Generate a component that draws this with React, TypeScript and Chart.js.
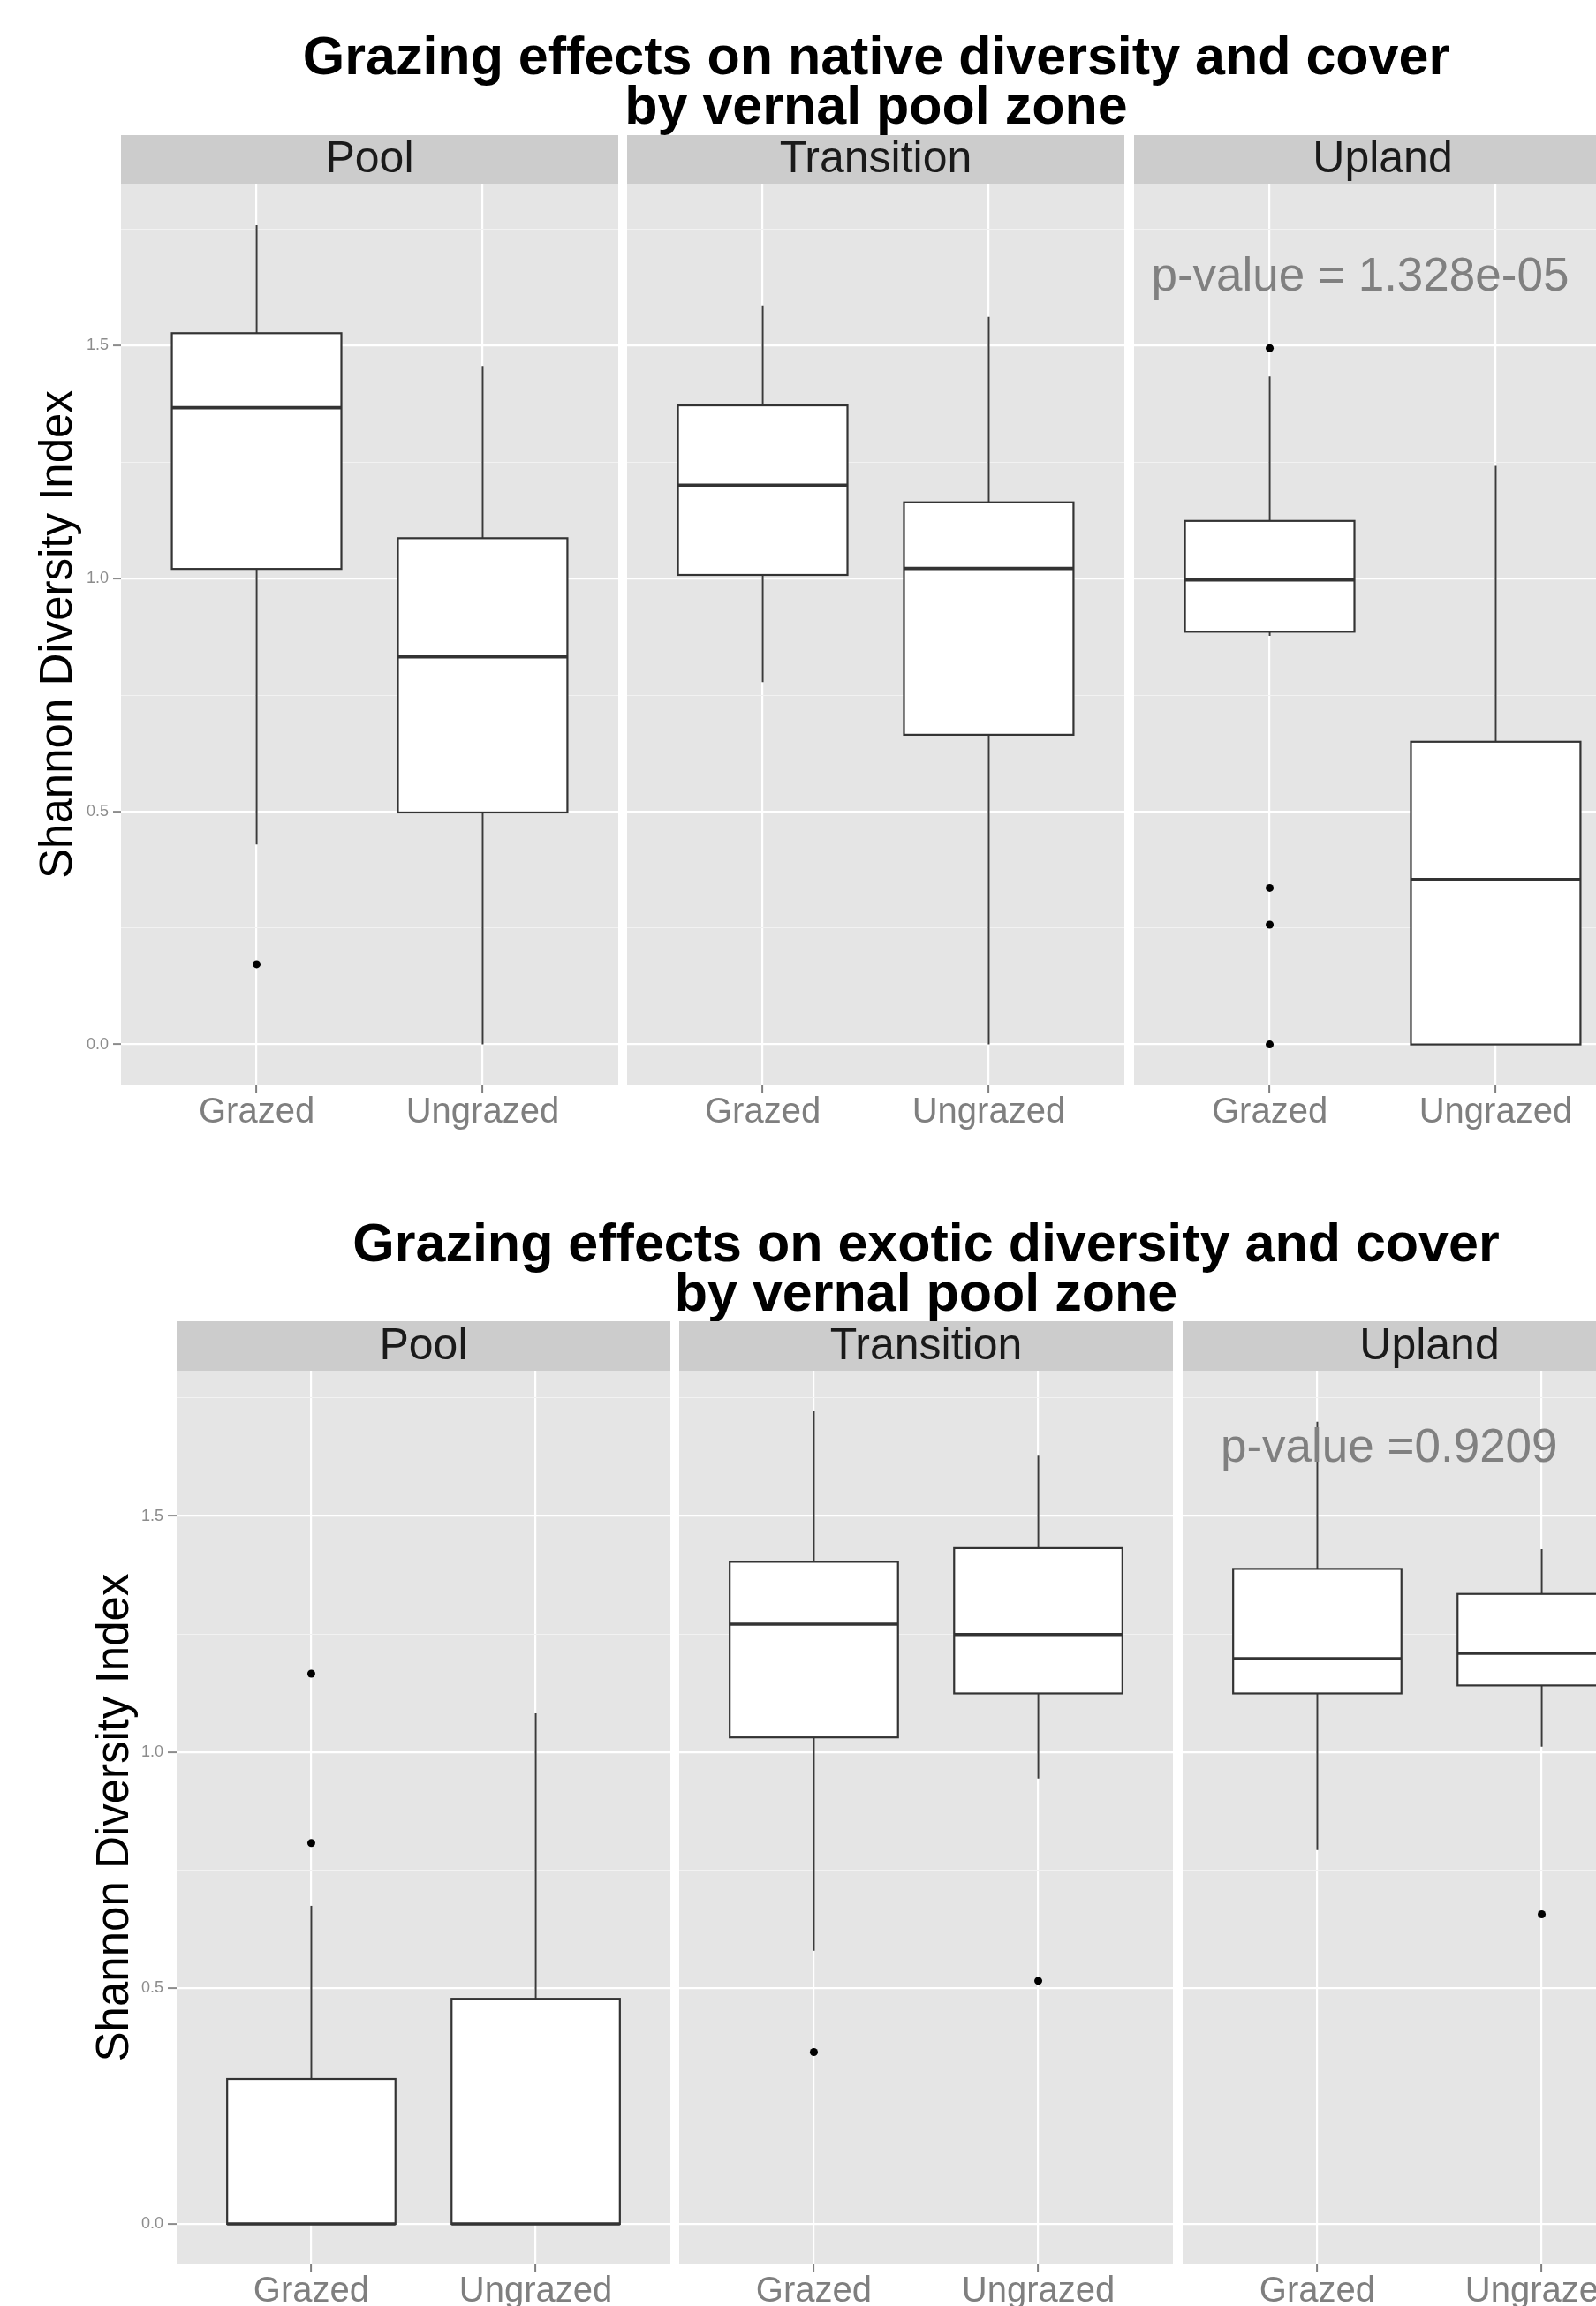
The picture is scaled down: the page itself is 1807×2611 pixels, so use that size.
import React, { useEffect, useRef } from 'react';
import { Chart, registerables } from 'chart.js';

Chart.register(...registerables);

// ---------- data ----------
const zones = ['Pool', 'Transition', 'Upland'];
const groups = ['Grazed', 'Ungrazed'];
const yTickValues = [0, 0.25, 0.5, 0.75, 1, 1.25, 1.5, 1.75];
const yAxisTitle = 'Shannon Diversity Index';

// Native diversity (top chart): per zone, [Grazed, Ungrazed]
const nativeTitle = 'Grazing effects on native diversity and cover\nby vernal pool zone';
const nativeLow = [[0.429, 0.0], [0.778, 0.0], [0.877, 0.0]];
const nativeQ1 = [[1.021, 0.498], [1.008, 0.665], [0.886, 0.0]];
const nativeMedian = [[1.367, 0.832], [1.201, 1.022], [0.997, 0.354]];
const nativeQ3 = [[1.527, 1.087], [1.372, 1.164], [1.124, 0.65]];
const nativeHigh = [[1.759, 1.457], [1.587, 1.562], [1.434, 1.242]];
const nativeOutliers = [[[0.172], []], [[], []], [[1.495, 0.336, 0.257, 0.0], []]];
const nativeRange = [-0.088, 1.848];
const nativePText = 'p-value = 1.328e-05';
const nativePAt = [1.4, 1.646];

// Exotic diversity (bottom chart)
const exoticTitle = 'Grazing effects on exotic diversity and cover\nby vernal pool zone';
const exoticLow = [[0, 0], [0.579, 0.944], [0.792, 1.011]];
const exoticQ1 = [[0, 0], [1.031, 1.124], [1.124, 1.141]];
const exoticMedian = [[0, 0], [1.271, 1.249], [1.198, 1.209]];
const exoticQ3 = [[0.307, 0.477], [1.403, 1.432], [1.388, 1.335]];
const exoticHigh = [[0.674, 1.082], [1.722, 1.628], [1.7, 1.43]];
const exoticOutliers = [[[0.807, 1.166], []], [[0.364], [0.515]], [[], [0.656]]];
const exoticRange = [-0.086, 1.808];
const exoticPText = 'p-value =0.9209';
const exoticPAt = [1.32, 1.642];

const FONT = '"Liberation Sans", Arial, Helvetica, sans-serif';

type PanelProps = {
  left: number;
  top: number;
  width: number;
  stripH: number;
  plotH: number;
  axisH: number;
  yAxisWidth: number;
  titlePad: number;
  tickLen: number;
  zoneIndex: number;
  low: number[][];
  q1: number[][];
  med: number[][];
  q3: number[][];
  high: number[][];
  outliers: number[][][];
  range: number[];
  pText?: string;
  pAt?: number[];
};

function Panel(p: PanelProps) {
  const ref = useRef<HTMLCanvasElement>(null);
  const height = p.stripH + p.plotH + p.axisH;
  useEffect(() => {
    const z = p.zoneIndex;
    const showY = p.yAxisWidth > 0;
    const isMajor = (v: number) => Math.abs(v * 2 - Math.round(v * 2)) < 1e-6;
    const points: { x: number; y: number }[] = [];
    groups.forEach((_, g) => p.outliers[z][g].forEach((v) => points.push({ x: g + 1, y: v })));

    const plugin = {
      id: 'facetBoxes',
      beforeDraw(chart: any) {
        const { ctx, chartArea: a } = chart;
        ctx.save();
        ctx.fillStyle = '#E5E5E5';
        ctx.fillRect(a.left, a.top, a.right - a.left, a.bottom - a.top);
        ctx.fillStyle = '#CCCCCC';
        ctx.fillRect(a.left, 0, a.right - a.left, p.stripH);
        ctx.fillStyle = '#1A1A1A';
        ctx.font = `50px ${FONT}`;
        ctx.textAlign = 'center';
        ctx.textBaseline = 'middle';
        ctx.fillText(zones[z], (a.left + a.right) / 2, p.stripH / 2 + 1);
        ctx.restore();
      },
      beforeDatasetsDraw(chart: any) {
        const { ctx } = chart;
        const xs = chart.scales.x;
        const ys = chart.scales.y;
        ctx.save();
        groups.forEach((_, g) => {
          const cx = xs.getPixelForValue(g + 1);
          const xl = xs.getPixelForValue(g + 1 - 0.375);
          const xr = xs.getPixelForValue(g + 1 + 0.375);
          const yLow = ys.getPixelForValue(p.low[z][g]);
          const yQ1 = ys.getPixelForValue(p.q1[z][g]);
          const yMed = ys.getPixelForValue(p.med[z][g]);
          const yQ3 = ys.getPixelForValue(p.q3[z][g]);
          const yHigh = ys.getPixelForValue(p.high[z][g]);
          ctx.strokeStyle = '#3A3A3A';
          ctx.lineWidth = 2;
          ctx.beginPath();
          ctx.moveTo(cx, yQ3);
          ctx.lineTo(cx, yHigh);
          ctx.moveTo(cx, yQ1);
          ctx.lineTo(cx, yLow);
          ctx.stroke();
          ctx.fillStyle = '#FFFFFF';
          ctx.fillRect(xl, yQ3, xr - xl, yQ1 - yQ3);
          ctx.strokeStyle = '#333333';
          ctx.lineWidth = 2.2;
          ctx.strokeRect(xl, yQ3, xr - xl, yQ1 - yQ3);
          ctx.lineWidth = 3.6;
          ctx.beginPath();
          ctx.moveTo(xl, yMed);
          ctx.lineTo(xr, yMed);
          ctx.stroke();
        });
        ctx.restore();
      },
      afterDatasetsDraw(chart: any) {
        if (!p.pText || !p.pAt) return;
        const { ctx } = chart;
        ctx.save();
        ctx.fillStyle = '#808080';
        ctx.font = `53px ${FONT}`;
        ctx.textAlign = 'center';
        ctx.textBaseline = 'middle';
        ctx.fillText(p.pText, chart.scales.x.getPixelForValue(p.pAt[0]), chart.scales.y.getPixelForValue(p.pAt[1]));
        ctx.restore();
      },
    };

    const chart = new Chart(ref.current as HTMLCanvasElement, {
      type: 'scatter',
      data: {
        datasets: [
          {
            data: points,
            pointRadius: 4.5,
            pointHoverRadius: 4.5,
            backgroundColor: '#000000',
            borderWidth: 0,
          },
        ],
      },
      options: {
        animation: false,
        responsive: false,
        devicePixelRatio: 1,
        events: [],
        layout: { autoPadding: false, padding: { top: p.stripH, left: 0, right: 0, bottom: 0 } },
        plugins: { legend: { display: false }, tooltip: { enabled: false }, title: { display: false } },
        scales: {
          x: {
            type: 'linear',
            min: 0.4,
            max: 2.6,
            border: { display: false },
            afterBuildTicks: (s: any) => {
              s.ticks = groups.map((_, i) => ({ value: i + 1 }));
            },
            afterFit: (s: any) => {
              s.height = p.axisH;
            },
            grid: { color: '#FFFFFF', lineWidth: 2.2, tickColor: '#7F7F7F', tickLength: 8, tickWidth: 2 },
            ticks: {
              autoSkip: false,
              maxRotation: 0,
              padding: 3,
              color: '#7F7F7F',
              font: { family: FONT, size: 40, lineHeight: 1 },
              callback: (v: any) => groups[Math.round(Number(v)) - 1] ?? '',
            },
          },
          y: {
            type: 'linear',
            min: p.range[0],
            max: p.range[1],
            border: { display: false },
            afterBuildTicks: (s: any) => {
              s.ticks = yTickValues.map((v) => ({ value: v }));
            },
            afterFit: (s: any) => {
              s.width = p.yAxisWidth;
            },
            grid: {
              color: (c: any) => (c.tick && isMajor(c.tick.value) ? '#FFFFFF' : '#F2F2F2'),
              lineWidth: (c: any) => (c.tick && isMajor(c.tick.value) ? 2.2 : 1.1),
              drawTicks: showY,
              tickLength: p.tickLen,
              tickWidth: 2,
              tickColor: (c: any) => (c.tick && isMajor(c.tick.value) ? '#8C8C8C' : 'rgba(0,0,0,0)'),
            },
            ticks: {
              display: showY,
              autoSkip: false,
              padding: 5,
              color: '#8C8C8C',
              font: { family: FONT, size: 18 },
              callback: (v: any) => (isMajor(Number(v)) ? Number(v).toFixed(1) : ''),
            },
            title: {
              display: showY,
              text: yAxisTitle,
              color: '#000000',
              font: { family: FONT, size: 51, lineHeight: 1 },
              padding: { top: p.titlePad, bottom: 0 },
            },
          },
        },
      } as any,
      plugins: [plugin],
    });
    return () => chart.destroy();
  }, []);
  return (
    <canvas
      ref={ref}
      width={p.width}
      height={height}
      style={{ position: 'absolute', left: p.left, top: p.top, width: p.width, height }}
    />
  );
}

function Title({ text, center, top }: { text: string; center: number; top: number }) {
  return (
    <div
      style={{
        position: 'absolute',
        left: center - 900,
        top,
        width: 1800,
        textAlign: 'center',
        whiteSpace: 'pre-line',
        font: `bold 61px ${FONT}`,
        lineHeight: '56px',
        color: '#000000',
      }}
    >
      {text}
    </div>
  );
}

export default function App() {
  const row1 = { top: 153, stripH: 55, plotH: 1021, axisH: 70, lefts: [0, 710, 1284], widths: [700, 563, 563], yw: [137, 0, 0] };
  const row2 = { top: 1496, stripH: 56, plotH: 1012, axisH: 70, lefts: [0, 769, 1339], widths: [759, 559, 559], yw: [200, 0, 0] };
  return (
    <div style={{ position: 'fixed', left: 0, top: 0, width: 1807, height: 2611, overflow: 'hidden', background: '#FFFFFF' }}>
      <Title text={nativeTitle} center={992} top={35} />
      {zones.map((_, z) => (
        <Panel
          key={'n' + z}
          left={row1.lefts[z]}
          top={row1.top}
          width={row1.widths[z]}
          stripH={row1.stripH}
          plotH={row1.plotH}
          axisH={row1.axisH}
          yAxisWidth={row1.yw[z]}
          titlePad={41.5}
          tickLen={9}
          zoneIndex={z}
          low={nativeLow}
          q1={nativeQ1}
          med={nativeMedian}
          q3={nativeQ3}
          high={nativeHigh}
          outliers={nativeOutliers}
          range={nativeRange}
          pText={z === 2 ? nativePText : undefined}
          pAt={nativePAt}
        />
      ))}
      <Title text={exoticTitle} center={1048.5} top={1379} />
      {zones.map((_, z) => (
        <Panel
          key={'e' + z}
          left={row2.lefts[z]}
          top={row2.top}
          width={row2.widths[z]}
          stripH={row2.stripH}
          plotH={row2.plotH}
          axisH={row2.axisH}
          yAxisWidth={row2.yw[z]}
          titlePad={105.5}
          tickLen={10}
          zoneIndex={z}
          low={exoticLow}
          q1={exoticQ1}
          med={exoticMedian}
          q3={exoticQ3}
          high={exoticHigh}
          outliers={exoticOutliers}
          range={exoticRange}
          pText={z === 2 ? exoticPText : undefined}
          pAt={exoticPAt}
        />
      ))}
    </div>
  );
}
